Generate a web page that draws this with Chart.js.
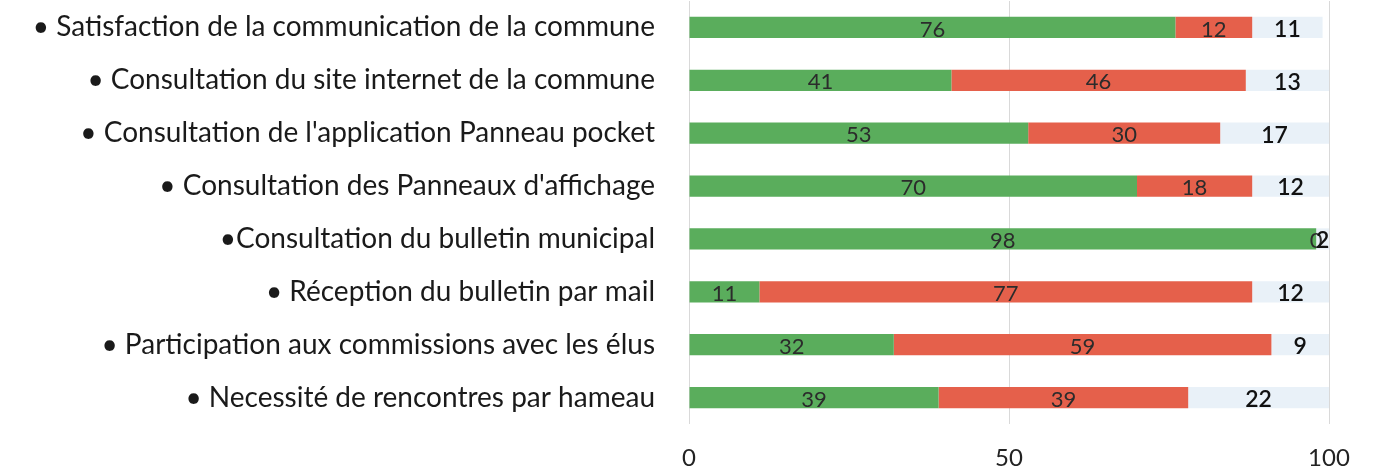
<!DOCTYPE html>
<html>
<head>
<meta charset="utf-8">
<script src="https://cdn.jsdelivr.net/npm/chart.js@4"></script>
<style>
  html, body { margin: 0; padding: 0; background: #fff; }
  #wrap { width: 1379px; height: 474px; }
</style>
</head>
<body>
<div id="wrap"><canvas id="canvas"></canvas></div>
<script>
var categories = [
    '• Satisfaction de la communication de la commune',
    '• Consultation du site internet de la commune',
    "• Consultation de l'application Panneau pocket",
    "• Consultation des Panneaux d'affichage",
    '•Consultation du bulletin municipal',
    '• Réception du bulletin par mail',
    '• Participation aux commissions avec les élus',
    '• Necessité de rencontres par hameau'
];
var oui = [76, 41, 53, 70, 98, 11, 32, 39];
var non = [12, 46, 30, 18, 0, 77, 59, 39];
var sansReponse = [11, 13, 17, 12, 2, 12, 9, 22];
var xTicks = [0, 50, 100];

// draws the value in the middle of every bar
var barLabels = {
    id: 'barLabels',
    afterDatasetsDraw: function(chart) {
        var ctx = chart.ctx;
        ctx.save();
        ctx.textAlign = 'center';
        ctx.textBaseline = 'middle';
        chart.data.datasets.forEach(function(ds, i) {
            var meta = chart.getDatasetMeta(i);
            meta.data.forEach(function(bar, j) {
                var cx = (bar.x + bar.base) / 2;
                if (i == 2) {
                    ctx.font = '600 23px Lato';
                    ctx.fillStyle = '#111';
                } else {
                    ctx.font = '22px Lato';
                    ctx.fillStyle = '#2b2b2b';
                }
                ctx.fillText(ds.data[j], cx, bar.y + 2);
            });
        });
        ctx.restore();
    }
};

window.onload = function() {
    var ctx = document.getElementById('canvas').getContext('2d');
    window.myBar = new Chart(ctx, {
        type: 'bar',
        data: {
            labels: categories,
            datasets: [{
                label: 'Oui',
                data: oui,
                backgroundColor: '#5aad5c',
                barPercentage: 0.4,
                categoryPercentage: 1
            }, {
                label: 'Non',
                data: non,
                backgroundColor: '#e5604b',
                barPercentage: 0.4,
                categoryPercentage: 1
            }, {
                label: 'Sans réponse',
                data: sansReponse,
                backgroundColor: '#e9f1f8',
                barPercentage: 0.4,
                categoryPercentage: 1
            }]
        },
        options: {
            indexAxis: 'y',
            responsive: true,
            maintainAspectRatio: false,
            animation: false,
            layout: { padding: { top: 1, right: 50, bottom: 0, left: 0 } },
            plugins: {
                legend: { display: false },
                tooltip: { enabled: false },
                title: { display: false }
            },
            scales: {
                x: {
                    stacked: true,
                    min: 0,
                    max: 100,
                    afterBuildTicks: function(scale) {
                        scale.ticks = xTicks.map(function(v) { return { value: v }; });
                    },
                    afterFit: function(scale) {
                        scale.height = 50;
                    },
                    grid: { color: '#d9d9d9', drawTicks: false },
                    border: { display: false },
                    ticks: {
                        padding: 20,
                        color: '#222',
                        font: { family: 'Lato', size: 24 }
                    }
                },
                y: {
                    stacked: true,
                    grid: { display: false },
                    border: { display: false },
                    afterFit: function(scale) {
                        scale.width = 689;
                        scale.paddingTop = 0;
                        scale.paddingBottom = 0;
                    },
                    ticks: {
                        padding: 26,
                        color: '#1a1a1a',
                        font: { family: 'Lato', size: 28 }
                    }
                }
            }
        },
        plugins: [barLabels]
    });
};
</script>
</body>
</html>
